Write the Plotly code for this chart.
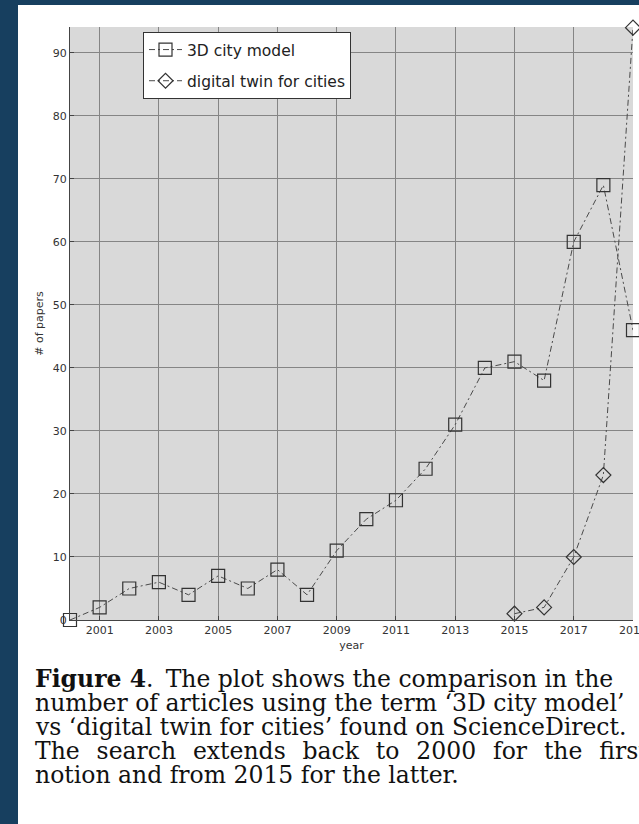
import plotly.graph_objects as go

# ---- data ----
years_3d = list(range(2000, 2020))
papers_3d = [0, 2, 5, 6, 4, 7, 5, 8, 4, 11, 16, 19, 24, 31, 40, 41, 38, 60, 69, 46]
years_dt = [2015, 2016, 2017, 2018, 2019]
papers_dt = [1, 2, 10, 23, 94]
x_ticks = [2001, 2003, 2005, 2007, 2009, 2011, 2013, 2015, 2017, 2019]
y_ticks = [0, 10, 20, 30, 40, 50, 60, 70, 80, 90]
series_names = ["3D city model", "digital twin for cities"]
G = " \u2009\u2009"  # widened word gap for justified caption line
caption_lines = [
    "<b>Figure 4</b>.\u2009 The plot shows the comparison in the",
    "number of articles using the term \u20183D city model\u2019",
    "vs \u2018digital twin for cities\u2019 found on ScienceDirect.",
    G.join(["The", "search", "extends", "back", "to", "2000", "for", "the", "first"]),
    "notion and from 2015 for the latter.",
]

W, H = 639, 824
L, R, T, B = 70, 6, 27, 204
pw, ph = W - L - R, H - T - B

def px2paper_x(px):
    return (px - L) / pw

def px2paper_y(py):
    return (H - B - py) / ph

line_col = "#4a4a4a"
mk_col = "#333333"
dash = "6px,3px,2px,3px"

fig = go.Figure()
fig.add_trace(go.Scatter(
    x=years_3d, y=papers_3d, name=series_names[0], mode="lines+markers",
    line=dict(color=line_col, width=1, dash=dash),
    marker=dict(symbol="square-open", size=13, color=mk_col, line=dict(width=1.2, color=mk_col)),
    cliponaxis=False, legendgroup="a",
))
fig.add_trace(go.Scatter(
    x=years_dt, y=papers_dt, name=series_names[1], mode="lines+markers",
    line=dict(color=line_col, width=1, dash=dash),
    marker=dict(symbol="diamond-open", size=11.5, color=mk_col, line=dict(width=1.2, color=mk_col)),
    cliponaxis=False, legendgroup="b",
))

axis_font = dict(family="DejaVu Sans", size=11, color="#333333")
fig.update_xaxes(
    range=[2000, 2019], tickvals=x_ticks, ticktext=[str(v) for v in x_ticks],
    showgrid=True, gridcolor="#858585", gridwidth=1, zeroline=False,
    showline=True, linecolor="#444444", linewidth=1,
    ticks="inside", ticklen=4, tickcolor="#444444", ticklabeloverflow="allow",
    automargin=False,
    tickfont=axis_font, title=dict(text="year", font=axis_font, standoff=5),
)
fig.update_yaxes(
    range=[0, 94.1], tickvals=y_ticks,
    showgrid=True, gridcolor="#858585", gridwidth=1, zeroline=False,
    showline=True, linecolor="#444444", linewidth=1,
    ticks="inside", ticklen=4, tickcolor="#444444", automargin=False,
    tickfont=axis_font, title=dict(text="# of papers", font=axis_font, standoff=6),
)

shapes = [
    dict(type="rect", xref="paper", yref="paper", x0=px2paper_x(0), x1=px2paper_x(18),
         y0=px2paper_y(H), y1=px2paper_y(0), fillcolor="#173f5f", line=dict(width=0), layer="above"),
    dict(type="rect", xref="paper", yref="paper", x0=px2paper_x(0), x1=px2paper_x(W),
         y0=px2paper_y(5), y1=px2paper_y(0), fillcolor="#173f5f", line=dict(width=0), layer="above"),
]

annotations = []
for i, txt in enumerate(caption_lines):
    annotations.append(dict(
        text=txt, xref="paper", yref="paper", x=px2paper_x(33), y=px2paper_y(679 + 24 * i),
        xanchor="left", yanchor="middle", showarrow=False, align="left",
        font=dict(family="DejaVu Serif", size=23.5, color="#111111"),
    ))

fig.update_layout(
    width=W, height=H, margin=dict(l=L, r=R, t=T, b=B, pad=0, autoexpand=False),
    paper_bgcolor="white", plot_bgcolor="#d9d9d9",
    shapes=shapes, annotations=annotations,
    legend=dict(
        x=px2paper_x(143), y=px2paper_y(32), xanchor="left", yanchor="top",
        bgcolor="white", bordercolor="#333333", borderwidth=1,
        font=dict(family="DejaVu Sans", size=15.5, color="#222222"),
        itemwidth=33, tracegroupgap=8, traceorder="grouped",
    ),
    showlegend=True,
)

fig.write_html("out.html", post_script="document.body.style.margin='0px';",
               config={"displayModeBar": False})
